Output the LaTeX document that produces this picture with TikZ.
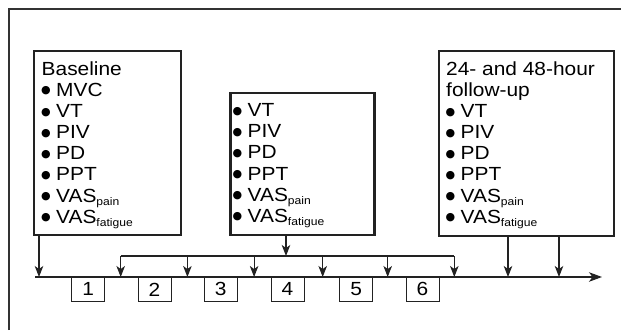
\documentclass[tikz,border=0pt]{standalone}
\usepackage{fontspec}
\setmainfont{Liberation Sans}[FakeStretch=1.1]
\newfontfamily\dejavu{DejaVu Sans}
\usetikzlibrary{arrows.meta}
\definecolor{boxcol}{HTML}{222222}
\definecolor{framecol}{HTML}{333333}
\newcommand\sbs[1]{\raisebox{-3pt}{\fontsize{11}{11}\selectfont #1}}
\newcommand\bul{\makebox[14.5pt][l]{\smash{\raisebox{2.6pt}{\makebox[0pt][l]{\hspace*{-0.6pt}\dejavu\fontsize{11}{11}\selectfont ●}}}}}
\newcommand\boxtext[4]{\parbox[c][#2][t]{#1}{\fontsize{19}{21.1}\selectfont\raggedright\leftskip=#3\relax\vspace*{10.5pt}#4}}
\begin{document}
\begin{tikzpicture}[x=1pt,y=-1pt,
  bigbox/.style={draw=boxcol,line width=2.4pt,inner sep=0pt,anchor=north west},
  numbox/.style={draw=boxcol,line width=0.8pt,inner sep=0pt,minimum width=33pt,minimum height=24pt,anchor=north,font=\fontsize{19}{21}\selectfont},
  arr/.style={line width=1.1pt,draw=boxcol,-{Stealth[length=11pt,width=8.5pt,inset=3pt]}},
  axisarr/.style={line width=1.1pt,draw=boxcol,-{Stealth[length=13pt,width=9.5pt,inset=3.5pt]}},
  plain/.style={line width=1.1pt,draw=boxcol},
  frame/.style={line width=1.2pt,draw=framecol}]
\useasboundingbox (0,0) rectangle (621,330);
\draw[frame] (9,330) -- (9,9) -- (621,9);
% boxes
\node[bigbox] (base) at (33,50) {\boxtext{147pt}{184pt}{7.5pt}{Baseline\\\bul MVC\\\bul VT\\\bul PIV\\\bul PD\\\bul PPT\\\bul VAS\sbs{pain}\\\bul VAS\sbs{fatigue}}};
\node[bigbox] (mid) at (229.3,92) {\boxtext{144pt}{142pt}{2.7pt}{\bul VT\\\bul PIV\\\bul PD\\\bul PPT\\\bul VAS\sbs{pain}\\\bul VAS\sbs{fatigue}}};
\node[bigbox] (fu) at (438,50) {\boxtext{175pt}{185pt}{7pt}{24- and 48-hour\\follow-up\\\bul VT\\\bul PIV\\\bul PD\\\bul PPT\\\bul VAS\sbs{pain}\\\bul VAS\sbs{fatigue}}};
% axis
\coordinate (axs) at (35,277);
\coordinate (axe) at (602,277);
\draw[axisarr] (axs) -- (axe);
% baseline arrow
\coordinate (a0) at (39,277);
\draw[arr] (base.south -| a0) -- (a0);
% middle arrow and bracket
\coordinate (br) at (286,256);
\draw[arr] (mid.south -| br) -- (br);
\foreach \i/\x in {1/120.7,2/187.4,3/254.1,4/322.7,5/387.7,6/454.3}{
  \coordinate (t\i) at (\x,256);
  \coordinate (d\i) at (\x,277);
  \draw[arr] (t\i) -- (d\i);
}
\draw[plain] (t1) -- (t6);
% follow-up arrows
\coordinate (f1) at (508,277);
\coordinate (f2) at (559,277);
\draw[arr] (fu.south -| f1) -- (f1);
\draw[arr] (fu.south -| f2) -- (f2);
% numbered boxes
\node[numbox] (n1) at (88.3,277) {1};
\node[numbox] (n2) at (154.5,277) {2};
\node[numbox] (n3) at (220.8,277) {3};
\node[numbox] (n4) at (287.5,277) {4};
\node[numbox] (n5) at (356.3,277) {5};
\node[numbox] (n6) at (422.5,277) {6};
\end{tikzpicture}
\end{document}
